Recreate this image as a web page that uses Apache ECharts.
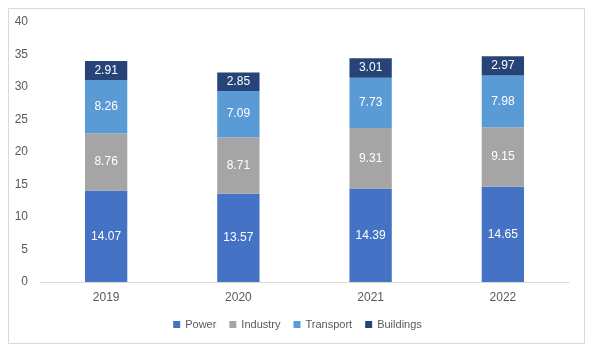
<!DOCTYPE html>
<html><head><meta charset="utf-8">
<script src="https://cdn.jsdelivr.net/npm/echarts@6/dist/echarts.min.js"></script>
<style>html,body{margin:0;padding:0;background:#fff}#c{width:595px;height:352px}</style>
</head><body><div id="c"></div>
<script>
const categories = ['2019','2020','2021','2022'];
const power = [14.07, 13.57, 14.39, 14.65];
const industry = [8.76, 8.71, 9.31, 9.15];
const transport = [8.26, 7.09, 7.73, 7.98];
const buildings = [2.91, 2.85, 3.01, 2.97];
const yTicks = [0,5,10,15,20,25,30,35,40];

const font = 'Liberation Sans, Arial, sans-serif';
function s(name, data, color){
  return {name, type:'bar', stack:'t', data, barWidth:'32%',
    itemStyle:{color},
    label:{show:true, position:'inside', color:'#fff', fontSize:12, fontFamily:font, formatter:p=>p.value.toFixed(2)}};
}
const chart = echarts.init(document.getElementById('c'), null, {renderer:'canvas'});
chart.setOption({
  animation:false,
  graphic:[{type:'rect', shape:{x:8.5,y:8.5,width:576,height:335}, style:{fill:'none', stroke:'#d9d9d9', lineWidth:1}, silent:true}],
  grid:{left:40, right:26, top:22, bottom:70},
  legend:{top:314, left:'center', itemWidth:7, itemHeight:7, itemGap:13, icon:'rect',
    textStyle:{color:'#595959', fontSize:11, fontFamily:font}, data:['Power','Industry','Transport','Buildings']},
  xAxis:{type:'category', data:categories, axisTick:{show:false},
    axisLine:{lineStyle:{color:'#d9d9d9'}},
    axisLabel:{color:'#595959', fontSize:12, fontFamily:font, margin:10}},
  yAxis:{type:'value', min:yTicks[0], max:yTicks[yTicks.length-1], interval:5,
    splitLine:{show:false}, axisLine:{show:false}, axisTick:{show:false},
    axisLabel:{color:'#595959', fontSize:12, fontFamily:font, margin:12}},
  series:[s('Power',power,'#4472C4'), s('Industry',industry,'#A5A5A5'), s('Transport',transport,'#5B9BD5'), s('Buildings',buildings,'#264478')]
});
</script></body></html>
